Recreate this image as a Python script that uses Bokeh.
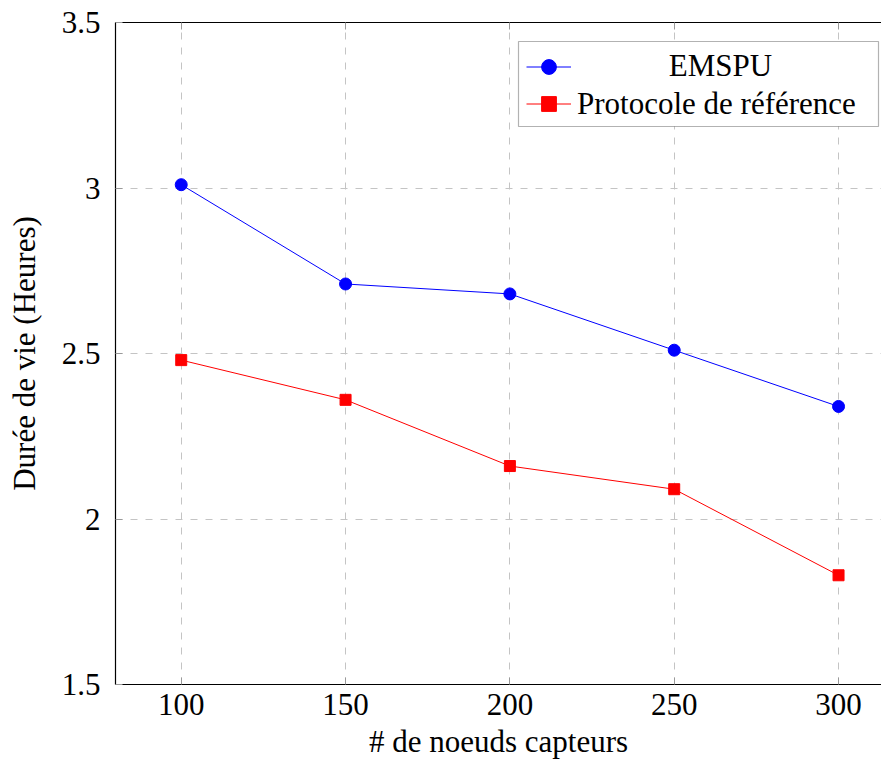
from bokeh.plotting import figure
from bokeh.models import (FixedTicker, LinearAxis, Legend, LegendItem, Label, Range1d, BoxAnnotation)
from bokeh.embed import file_html
from bokeh.resources import INLINE
from bokeh.core.properties import value

nodes = [100, 150, 200, 250, 300]
emspu = [3.01, 2.71, 2.68, 2.51, 2.34]
reference = [2.48, 2.36, 2.16, 2.09, 1.83]
x_ticks = [100, 150, 200, 250, 300]
y_ticks = [1.5, 2, 2.5, 3, 3.5]
y_tick_labels = ["1.5", "2", "2.5", "3", "3.5"]

FONT = "Liberation Serif"
FS = "31px"

p = figure(width=881, height=761, output_backend="svg", toolbar_location=None,
           x_range=Range1d(80, 313.07), y_range=Range1d(1.5, 3.5),
           min_border_left=115, min_border_right=0, min_border_top=22, min_border_bottom=76)
p.outline_line_color = None
p.background_fill_color = "white"
p.border_fill_color = "white"

for ax in (p.xaxis[0], p.yaxis[0]):
    ax.axis_line_color = "black"
    ax.axis_line_width = 1.2
    ax.major_tick_in = 7
    ax.major_tick_out = 0
    ax.major_tick_line_color = "#999999"
    ax.minor_tick_line_color = None
    ax.major_label_text_font = FONT
    ax.major_label_text_font_size = FS
    ax.major_label_text_color = "black"
    ax.axis_label_text_font = FONT
    ax.axis_label_text_font_size = FS
    ax.axis_label_text_font_style = "normal"
    ax.axis_label_text_color = "black"

p.xaxis.ticker = FixedTicker(ticks=x_ticks)
p.yaxis.ticker = FixedTicker(ticks=y_ticks)
p.yaxis.major_label_overrides = {t: l for t, l in zip(y_ticks, y_tick_labels)}
p.xaxis.major_label_standoff = 9
p.yaxis.major_label_standoff = 15
p.xaxis.axis_label = "# de noeuds capteurs"
p.yaxis.axis_label = "Durée de vie (Heures)"
p.xaxis.axis_label_standoff = 6
p.yaxis.axis_label_standoff = 17

top = LinearAxis(ticker=FixedTicker(ticks=x_ticks), major_tick_in=7, major_tick_out=0,
                 major_tick_line_color="#999999", minor_tick_line_color=None,
                 major_label_text_font_size="0px", axis_line_color="black", axis_line_width=1.2)
top.major_label_overrides = {t: "" for t in x_ticks}
p.add_layout(top, "above")

p.xgrid.ticker = FixedTicker(ticks=x_ticks)
p.ygrid.ticker = FixedTicker(ticks=y_ticks)
for g in (p.xgrid[0], p.ygrid[0]):
    g.grid_line_color = "#c4c4c4"
    g.grid_line_dash = "7 8"
    g.grid_line_width = 1

l1 = p.line(nodes, emspu, line_color="blue", line_width=1)
s1 = p.scatter(nodes, emspu, marker="circle", size=12, fill_color="blue", line_color="blue")
l2 = p.line(nodes, reference, line_color="red", line_width=1)
s2 = p.scatter(nodes, reference, marker="square", size=11, fill_color="red", line_color="red")

# legend frame (white box with black border) drawn beneath the legend entries
p.add_layout(BoxAnnotation(left=403, right=763, bottom=558, top=643,
                           left_units="screen", right_units="screen",
                           bottom_units="screen", top_units="screen",
                           fill_color="white", fill_alpha=1,
                           line_color="black", line_width=1.2, level="underlay"))

legend = Legend(items=[LegendItem(label=value(""), renderers=[l1, s1]),
                       LegendItem(label="Protocole de référence", renderers=[l2, s2])],
                location=(411, 562), orientation="vertical",
                glyph_width=45, glyph_height=37, label_height=37, label_width=280,
                label_standoff=6, padding=6, spacing=0, margin=0,
                border_line_color=None, background_fill_alpha=0,
                label_text_font=FONT, label_text_font_size=FS, label_text_color="black")
p.add_layout(legend, "center")

p.add_layout(Label(x=605, y=619, x_units="screen", y_units="screen", text="EMSPU",
                   text_align="center", text_baseline="middle", level="overlay",
                   text_font=FONT, text_font_size=FS, text_color="black"))

open("out.html", "w").write(file_html(p, INLINE))
